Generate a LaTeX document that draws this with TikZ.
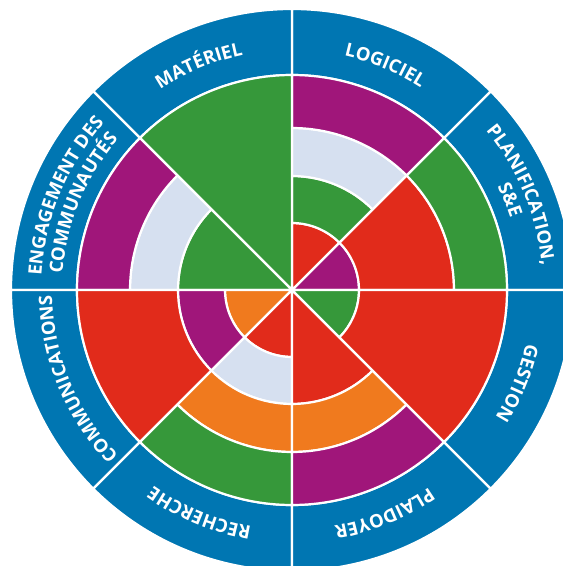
\documentclass[tikz,border=0pt]{standalone}
\usepackage{fontspec}
\newfontfamily\lblfont{Open Sans}
\usetikzlibrary{decorations.text}
\definecolor{cblue}{RGB}{0,118,178}
\definecolor{cgreen}{RGB}{54,152,58}
\definecolor{cred}{RGB}{225,43,27}
\definecolor{cpurple}{RGB}{160,22,122}
\definecolor{clight}{RGB}{214,224,240}
\definecolor{corange}{RGB}{240,122,30}
\tikzset{
  cellstyle/.style={draw=white, line width=2.2pt, line join=round},
}
\newcommand\cell[5]{\filldraw[cellstyle, fill=#5] (#1:#3) arc[start angle=#1, end angle=#2, radius=#3] -- (#2:#4) arc[start angle=#2, end angle=#1, radius=#4] -- cycle;}
\newcommand\cellz[4]{\filldraw[cellstyle, fill=#4] (0,0) -- (#1:#3) arc[start angle=#1, end angle=#2, radius=#3] -- cycle;}
\newcommand\lbl[4]{\path[decorate, decoration={text along path, text align=center, text={|\lblfont\bfseries\fontsize{18.5}{20}\selectfont\color{white}|#4}}] (#1:#3) arc[start angle=#1, end angle=#2, radius=#3];}
\begin{document}
\begin{tikzpicture}[x=1pt,y=1pt]
\useasboundingbox (0,0) rectangle (563,566);
\begin{scope}[shift={(292,276)}]
% blue ring
\foreach \a in {0,45,...,315}{\pgfmathsetmacro\b{\a+45}\cell{\a}{\b}{215}{281}{cblue}}
% PLANIFICATION 0-45
\cellz{0}{45}{67}{cpurple}
\cell{0}{45}{67}{162}{cred}
\cell{0}{45}{162}{215}{cgreen}
% LOGICIEL 45-90
\cellz{45}{90}{67}{cred}
\cell{45}{90}{67}{114}{cgreen}
\cell{45}{90}{114}{162}{clight}
\cell{45}{90}{162}{215}{cpurple}
% MATERIEL 90-135
\cellz{90}{135}{215}{cgreen}
% ENGAGEMENT 135-180
\cellz{135}{180}{114}{cgreen}
\cell{135}{180}{114}{162}{clight}
\cell{135}{180}{162}{215}{cpurple}
% COMMUNICATIONS 180-225
\cellz{180}{225}{67}{corange}
\cell{180}{225}{67}{114}{cpurple}
\cell{180}{225}{114}{215}{cred}
% RECHERCHE 225-270
\cellz{225}{270}{67}{cred}
\cell{225}{270}{67}{114}{clight}
\cell{225}{270}{114}{162}{corange}
\cell{225}{270}{162}{215}{cgreen}
% PLAIDOYER 270-315
\cellz{270}{315}{114}{cred}
\cell{270}{315}{114}{162}{corange}
\cell{270}{315}{162}{215}{cpurple}
% GESTION 315-360
\cellz{315}{360}{67}{cgreen}
\cell{315}{360}{67}{215}{cred}
% labels
\lbl{45}{0}{251}{PLANIFICATION,}
\lbl{45}{0}{230}{S{\&}E}
\lbl{90}{45}{240}{LOGICIEL}
\lbl{135}{90}{240}{MATÉRIEL}
\lbl{180}{135}{251}{ENGAGEMENT DES}
\lbl{180}{135}{230}{COMMUNAUTÉS}
\lbl{225}{180}{240}{COMMUNICATIONS}
\lbl{270}{225}{240}{RECHERCHE}
\lbl{315}{270}{240}{PLAIDOYER}
\lbl{360}{315}{240}{GESTION}
\end{scope}
\end{tikzpicture}
\end{document}
